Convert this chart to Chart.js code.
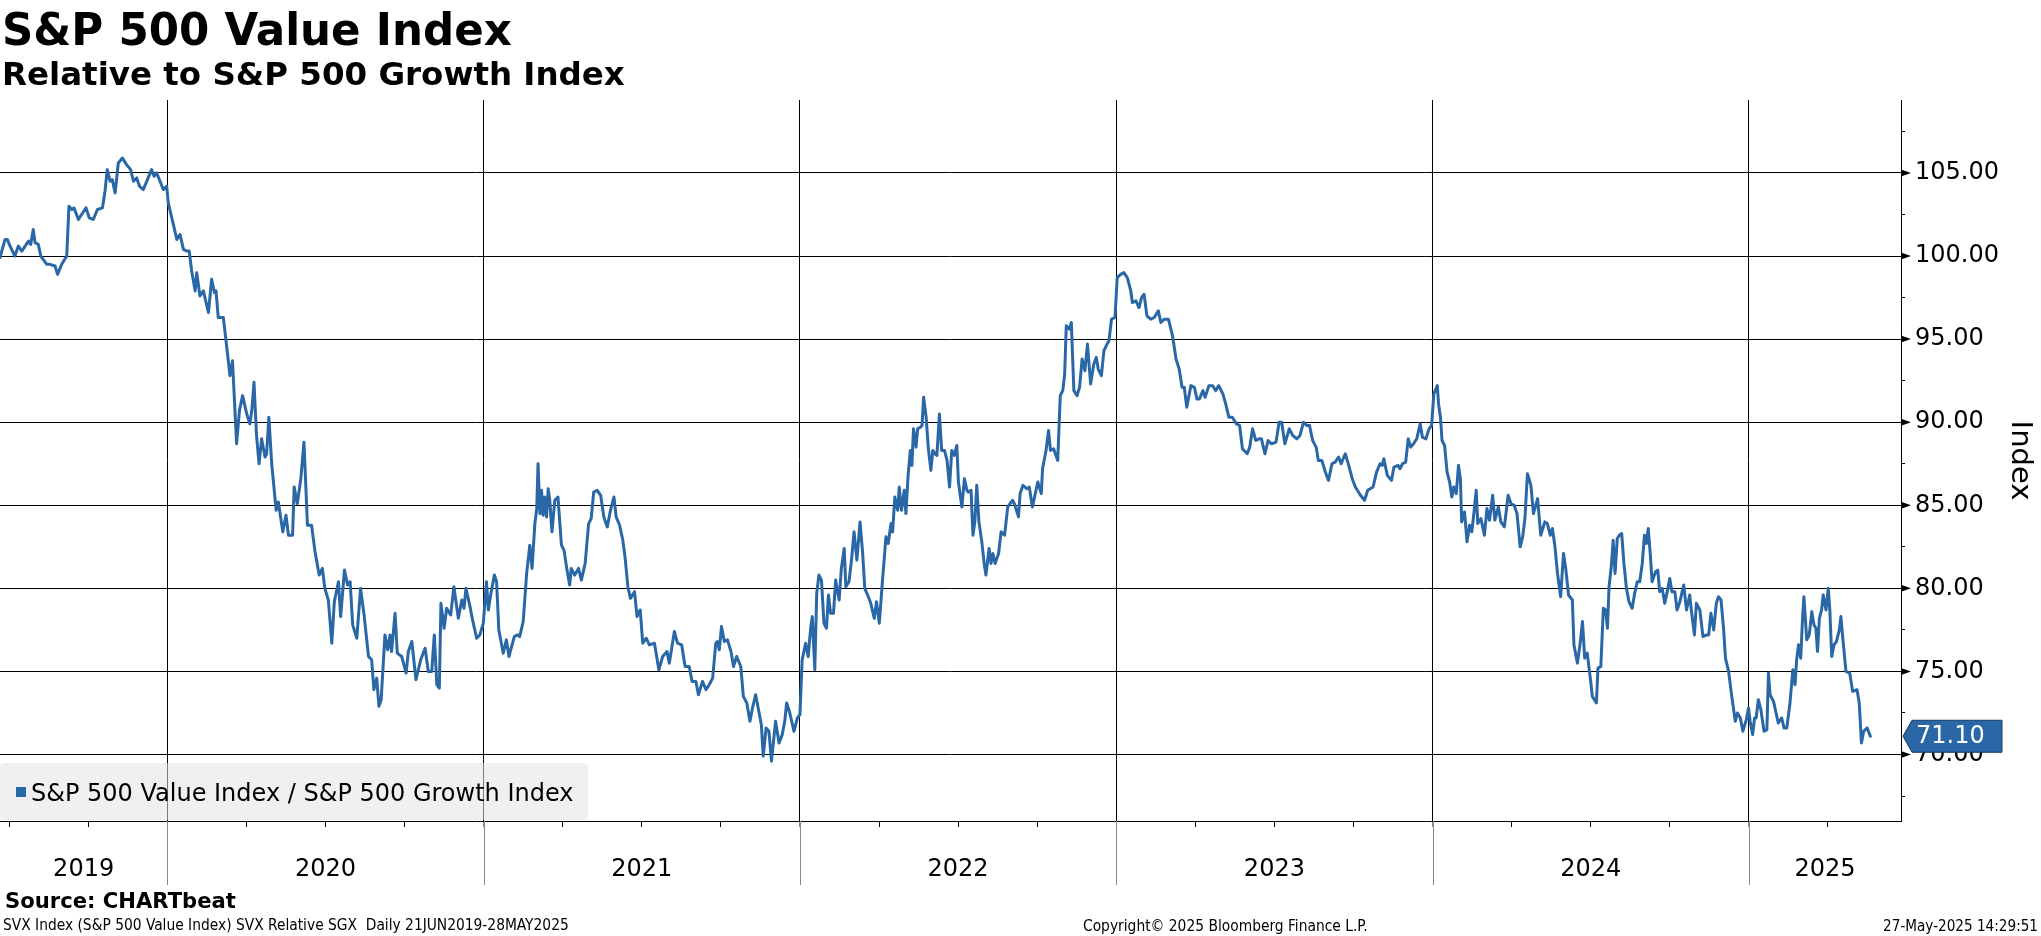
<!DOCTYPE html>
<html><head><meta charset="utf-8">
<script src="https://cdn.jsdelivr.net/npm/chart.js@4.4.1/dist/chart.umd.min.js"></script>
<style>html,body{margin:0;padding:0;background:#fff;overflow:hidden}#wrap{position:relative;width:2041px;height:936px}</style>
</head><body><div id="wrap"><canvas id="c"></canvas></div>
<script>
// ---------- texts ----------
const titleText = 'S&P 500 Value Index';
const subtitleText = 'Relative to S&P 500 Growth Index';
const seriesLabel = 'S&P 500 Value Index / S&P 500 Growth Index';
const sourceText = 'Source: CHARTbeat';
const footLeft = 'SVX Index (S&P 500 Value Index) SVX Relative SGX  Daily 21JUN2019-28MAY2025';
const footCenter = 'Copyright\u00A9 2025 Bloomberg Finance L.P.';
const footRight = '27-May-2025 14:29:51';
const yAxisTitle = 'Index';

// ---------- axes ----------
const yearLabels = ['2019','2020','2021','2022','2023','2024','2025'];
const yearBoundaries = [2020, 2021, 2022, 2023, 2024, 2025];
const yMajorTicks = [70, 75, 80, 85, 90, 95, 100, 105];
const yMinorTicks = [67.5, 72.5, 77.5, 82.5, 87.5, 92.5, 97.5, 102.5, 107.5];
const xStart = 2019.471, xEnd = 2025.481;   // 21 Jun 2019 .. late Jun 2025 (decimal years)
const yMin = 66.0, yMax = 109.39;

// ---------- data (dates as decimal years, ratio values) ----------
const datesJun19toDec20 = [2019.471,2019.487,2019.494,2019.503,2019.518,2019.529,2019.540,2019.561,2019.568,2019.576,
2019.582,2019.592,2019.600,2019.619,2019.629,2019.645,2019.653,2019.666,2019.682,2019.689,
2019.698,2019.705,2019.719,2019.729,2019.743,2019.753,2019.766,2019.779,2019.795,2019.803,
2019.810,2019.819,2019.826,2019.835,2019.845,2019.858,2019.871,2019.884,2019.893,2019.903,
2019.912,2019.924,2019.935,2019.950,2019.958,2019.966,2019.977,2019.987,2019.998,2020.003,
2020.019,2020.030,2020.040,2020.051,2020.061,2020.069,2020.077,2020.088,2020.093,2020.103,
2020.114,2020.130,2020.140,2020.149,2020.154,2020.161,2020.177,2020.188,2020.198,2020.206,
2020.219,2020.228,2020.238,2020.251,2020.261,2020.267,2020.274,2020.282,2020.290,2020.298,
2020.309,2020.314,2020.321,2020.330,2020.344,2020.351,2020.365,2020.375,2020.383,2020.396,
2020.401,2020.411,2020.422,2020.432,2020.443,2020.456,2020.467,2020.480,2020.490,2020.498,
2020.509,2020.520,2020.528,2020.541,2020.548,2020.560,2020.570,2020.578,2020.586,2020.599,
2020.611,2020.622,2020.636,2020.646,2020.653,2020.662,2020.669,2020.676,2020.688,2020.697,
2020.704,2020.709,2020.720,2020.727,2020.741,2020.755,2020.762,2020.773,2020.786,2020.801,
2020.815,2020.825,2020.836,2020.844,2020.852,2020.860,2020.865,2020.875,2020.883,2020.896,
2020.906,2020.920,2020.931,2020.938,2020.944,2020.957,2020.965,2020.978];
const valuesJun19toDec20 = [99.9,101.0,101.0,100.6,100.0,100.6,100.3,100.9,100.7,101.6,
100.8,100.7,100.0,99.5,99.5,99.4,98.9,99.5,100.0,103.0,
102.8,102.9,102.2,102.5,102.9,102.3,102.2,102.8,102.9,103.9,
105.2,104.5,104.6,103.8,105.6,105.9,105.5,105.2,104.5,104.7,
104.2,104.0,104.5,105.2,104.8,105.0,104.5,104.0,104.2,103.2,
101.9,101.0,101.3,100.4,100.3,100.3,99.1,97.9,99.0,97.6,
97.9,96.6,98.6,97.8,97.9,96.3,96.3,94.5,92.8,93.7,
88.7,90.7,91.6,90.5,89.9,90.7,92.4,89.2,87.5,89.0,
87.9,88.1,90.3,87.5,84.7,85.2,83.4,84.4,83.2,83.2,
86.1,85.1,86.6,88.8,83.8,83.8,82.2,80.8,81.2,80.0,
79.3,76.7,79.2,80.4,78.3,81.1,80.2,80.4,77.8,77.0,
80.0,78.4,75.9,75.7,73.9,74.6,72.9,73.3,77.2,76.3,
77.2,76.2,78.5,76.1,75.9,74.9,76.2,76.8,74.5,75.7,
76.4,75.0,75.0,77.2,74.2,74.0,79.1,77.6,78.8,78.4,
80.1,78.2,79.3,78.8,80.0,78.9,78.1,77.0];

const datesJan21toJul22 = [2020.988,2020.999,2021.009,2021.015,2021.023,2021.034,2021.041,2021.048,2021.062,2021.072,
2021.080,2021.097,2021.107,2021.114,2021.125,2021.136,2021.146,2021.153,2021.162,2021.168,
2021.172,2021.178,2021.183,2021.188,2021.193,2021.199,2021.204,2021.209,2021.216,2021.225,
2021.235,2021.246,2021.254,2021.262,2021.272,2021.277,2021.288,2021.300,2021.309,2021.321,
2021.332,2021.340,2021.348,2021.359,2021.370,2021.380,2021.391,2021.401,2021.412,2021.419,
2021.430,2021.440,2021.447,2021.456,2021.464,2021.477,2021.485,2021.495,2021.503,2021.514,
2021.524,2021.540,2021.554,2021.566,2021.580,2021.587,2021.603,2021.613,2021.626,2021.637,
2021.650,2021.659,2021.671,2021.679,2021.692,2021.703,2021.713,2021.724,2021.734,2021.739,
2021.745,2021.752,2021.761,2021.771,2021.782,2021.790,2021.800,2021.813,2021.821,2021.832,
2021.842,2021.850,2021.860,2021.871,2021.878,2021.884,2021.893,2021.902,2021.910,2021.923,
2021.934,2021.944,2021.952,2021.958,2021.968,2021.981,2021.992,2022.000,2022.007,2022.018,
2022.026,2022.034,2022.039,2022.047,2022.053,2022.060,2022.068,2022.076,2022.084,2022.090,
2022.097,2022.106,2022.113,2022.124,2022.131,2022.140,2022.145,2022.155,2022.163,2022.171,
2022.180,2022.190,2022.198,2022.205,2022.216,2022.224,2022.235,2022.242,2022.251,2022.261,
2022.272,2022.279,2022.288,2022.293,2022.300,2022.309,2022.314,2022.321,2022.330,2022.335,
2022.342,2022.349,2022.354,2022.359,2022.367,2022.372,2022.381,2022.386,2022.391,2022.399,
2022.406,2022.414,2022.420,2022.427,2022.433,2022.441,2022.448,2022.457,2022.465,2022.473,
2022.480,2022.488,2022.496,2022.501,2022.512,2022.520,2022.528];
const valuesJan21toJul22 = [77.2,77.9,80.4,78.7,79.7,80.8,80.4,77.5,76.1,76.9,
75.9,77.1,77.2,77.1,78.0,80.9,82.6,81.2,83.9,84.8,
87.5,84.5,85.9,84.4,85.5,84.3,86.0,85.3,83.4,85.3,
85.5,82.6,82.3,81.3,80.2,81.2,80.8,81.2,80.5,81.5,
83.9,84.2,85.8,85.9,85.6,84.3,83.7,84.7,85.5,84.3,
83.8,82.9,81.9,80.1,79.4,79.8,78.3,78.7,76.7,77.0,
76.6,76.7,75.1,75.9,76.2,75.5,77.4,76.7,76.6,75.3,
75.3,74.4,74.4,73.6,74.4,73.9,74.2,74.6,76.7,76.8,
76.3,77.7,76.8,76.9,76.2,75.3,75.9,75.3,73.5,73.1,
72.0,72.8,73.6,72.5,71.8,69.9,71.6,71.4,69.6,72.0,
70.7,71.2,72.0,73.1,72.5,71.4,72.2,72.4,75.7,76.7,
75.9,77.6,78.3,75.1,79.7,80.8,80.5,77.9,77.6,79.6,
78.5,78.5,80.5,79.3,81.2,82.4,80.1,80.4,81.7,83.4,
81.7,84.0,82.2,80.0,79.5,79.1,78.2,79.2,77.9,80.5,
83.1,82.7,83.9,83.4,85.5,84.7,86.1,84.7,85.9,84.5,
86.8,88.3,87.4,89.6,88.5,89.6,89.7,89.8,91.5,90.3,
88.4,87.1,88.3,88.1,88.0,90.5,88.3,88.3,87.7,86.1,
88.3,88.0,88.6,86.4,84.9,86.6,85.9];

const datesJul22toDec23 = [2022.532,2022.541,2022.547,2022.553,2022.559,2022.566,2022.575,2022.583,2022.588,2022.598,
2022.604,2022.610,2022.617,2022.628,2022.636,2022.647,2022.657,2022.672,2022.678,2022.691,
2022.696,2022.705,2022.717,2022.725,2022.735,2022.752,2022.763,2022.767,2022.778,2022.786,
2022.792,2022.802,2022.815,2022.823,2022.831,2022.837,2022.842,2022.852,2022.858,2022.866,
2022.876,2022.884,2022.892,2022.901,2022.909,2022.919,2022.929,2022.937,2022.943,2022.953,
2022.961,2022.971,2022.977,2022.985,2022.996,2023.003,2023.014,2023.024,2023.035,2023.046,
2023.051,2023.062,2023.072,2023.080,2023.088,2023.097,2023.109,2023.120,2023.133,2023.141,
2023.152,2023.165,2023.178,2023.189,2023.199,2023.208,2023.215,2023.223,2023.236,2023.247,
2023.255,2023.263,2023.274,2023.281,2023.293,2023.305,2023.314,2023.324,2023.337,2023.346,
2023.356,2023.367,2023.380,2023.390,2023.399,2023.414,2023.422,2023.431,2023.441,2023.452,
2023.459,2023.470,2023.480,2023.491,2023.505,2023.515,2023.523,2023.533,2023.547,2023.558,
2023.571,2023.581,2023.592,2023.602,2023.611,2023.621,2023.632,2023.639,2023.650,2023.661,
2023.671,2023.682,2023.692,2023.703,2023.711,2023.724,2023.735,2023.746,2023.756,2023.772,
2023.785,2023.795,2023.812,2023.823,2023.834,2023.841,2023.846,2023.857,2023.870,2023.878,
2023.891,2023.897,2023.905,2023.915,2023.923,2023.931,2023.940,2023.950,2023.961,2023.968,
2023.979,2023.989,2023.997];
const valuesJul22toDec23 = [85.8,85.9,83.2,84.0,86.2,84.0,82.8,81.4,80.8,82.4,
81.5,82.1,81.5,82.1,83.4,83.2,84.9,85.3,85.1,84.3,
85.7,86.2,86.0,86.1,84.9,86.4,85.7,87.2,88.3,89.5,
88.3,88.4,87.7,91.6,91.9,92.9,95.8,95.6,96.0,91.9,
91.6,92.1,93.8,93.1,94.7,92.3,93.5,93.9,93.2,92.8,
94.3,94.7,94.9,96.2,96.3,98.7,98.9,99.0,98.7,97.9,
97.2,97.3,96.9,97.5,97.7,96.4,96.2,96.3,96.7,96.0,
96.2,96.2,95.2,93.8,93.2,92.1,92.1,90.9,92.2,92.1,
91.4,91.4,91.9,91.5,92.2,92.2,91.9,92.2,91.7,91.1,
90.3,90.3,89.9,89.8,88.4,88.1,88.5,89.6,88.9,89.0,
89.0,88.1,88.9,88.7,88.8,90.0,90.0,88.7,89.6,89.2,
89.0,89.2,90.0,89.8,89.8,88.9,88.5,87.7,87.7,87.0,
86.5,87.5,87.6,87.9,87.5,88.1,87.4,86.6,86.1,85.6,
85.3,85.9,86.1,87.0,87.5,87.4,87.8,86.8,86.5,87.3,
87.4,87.2,87.5,87.6,89.0,88.5,88.7,89.0,89.9,89.1,
89.0,89.6,89.8];

const datesJan24toMay25 = [2024.004,2024.015,2024.019,2024.025,2024.030,2024.038,2024.046,2024.054,2024.061,2024.067,
2024.075,2024.082,2024.088,2024.092,2024.101,2024.109,2024.117,2024.124,2024.130,2024.138,
2024.143,2024.153,2024.164,2024.172,2024.180,2024.190,2024.197,2024.208,2024.216,2024.227,
2024.239,2024.248,2024.258,2024.267,2024.277,2024.285,2024.292,2024.300,2024.311,2024.319,
2024.332,2024.342,2024.355,2024.363,2024.372,2024.379,2024.387,2024.395,2024.405,2024.414,
2024.421,2024.430,2024.442,2024.447,2024.458,2024.466,2024.474,2024.481,2024.489,2024.500,
2024.505,2024.518,2024.523,2024.532,2024.540,2024.547,2024.553,2024.558,2024.565,2024.571,
2024.577,2024.584,2024.591,2024.598,2024.605,2024.613,2024.621,2024.631,2024.639,2024.647,
2024.655,2024.663,2024.670,2024.676,2024.682,2024.689,2024.694,2024.705,2024.712,2024.718,
2024.726,2024.734,2024.742,2024.750,2024.757,2024.766,2024.773,2024.782,2024.794,2024.803,
2024.813,2024.820,2024.828,2024.834,2024.845,2024.855,2024.866,2024.873,2024.880,2024.889,
2024.897,2024.904,2024.912,2024.920,2024.926,2024.936,2024.946,2024.957,2024.964,2024.973,
2024.981,2024.992,2024.999,2025.004,2025.012,2025.018,2025.023,2025.030,2025.038,2025.048,
2025.057,2025.062,2025.067,2025.078,2025.086,2025.093,2025.104,2025.111,2025.120,2025.130,
2025.139,2025.146,2025.151,2025.157,2025.164,2025.170,2025.174,2025.183,2025.191,2025.199,
2025.206,2025.212,2025.217,2025.223,2025.230,2025.235,2025.244,2025.251,2025.256,2025.262,
2025.269,2025.277,2025.286,2025.291,2025.296,2025.307,2025.319,2025.328,2025.342,2025.349,
2025.356,2025.363,2025.374,2025.384];
const valuesJan24toMay25 = [91.7,92.2,91.1,90.3,88.9,88.6,87.0,86.4,85.5,86.1,
85.7,87.4,86.6,84.0,84.6,82.8,83.8,83.4,84.4,85.9,
83.9,84.2,83.2,84.8,84.1,85.6,84.1,84.9,84.0,83.7,
85.6,85.1,85.0,84.5,82.5,83.1,84.2,86.9,86.2,84.5,
85.4,83.2,84.0,83.9,83.2,83.6,82.5,80.9,79.5,82.1,
81.2,79.6,79.3,76.6,75.5,76.6,78.0,75.8,76.1,74.4,
73.5,73.1,75.2,75.3,78.8,78.7,77.6,80.1,81.3,82.9,
80.9,83.0,83.2,83.3,81.5,80.0,79.2,78.8,79.7,80.4,
80.4,81.5,83.2,82.7,83.6,81.9,80.4,81.0,81.1,79.8,
80.0,79.1,79.8,80.6,79.8,79.8,78.7,79.2,80.2,78.7,
79.6,78.4,77.2,79.1,78.7,77.1,77.2,77.2,78.5,77.5,
79.1,79.5,79.3,77.6,75.8,75.0,73.5,72.0,72.5,72.2,
71.4,72.1,72.8,72.0,71.2,72.2,72.2,73.3,72.7,71.4,
71.5,74.9,73.6,73.2,72.5,71.9,72.2,71.6,71.6,73.1,
75.1,74.2,75.7,76.6,75.8,78.3,79.5,76.9,77.2,78.6,
77.8,77.6,76.2,78.2,78.7,79.6,78.7,80.0,78.7,75.9,
76.6,76.8,77.5,78.3,77.2,75.0,74.9,73.8,73.9,73.1,
70.7,71.4,71.6,71.1];

// ---------- build ----------
const allDates = [].concat(datesJun19toDec20, datesJan21toJul22, datesJul22toDec23, datesJan24toMay25);
const allValues = [].concat(valuesJun19toDec20, valuesJan21toJul22, valuesJul22toDec23, valuesJan24toMay25);
const points = allDates.map((d, i) => ({x: d, y: allValues[i]}));
const lastValue = allValues[allValues.length - 1];

const LINE = '#2a67a6';
const FONT = '"DejaVu Sans", sans-serif';
const FONT_COND = '"DejaVu Sans Condensed", "DejaVu Sans", sans-serif';
Chart.defaults.font.family = FONT;
Chart.defaults.color = '#000';

// x ticks: quarter marks + year label positions (centre of visible part of each year)
const xTicks = [];
for (let yr = 2019; yr <= 2025; yr++) {
  for (let q = 0; q < 4; q++) {
    const v = yr + q / 4;
    if (v > xStart && v < xEnd) xTicks.push({value: v, kind: (q === 0 ? 'year' : 'quarter'), text: ''});
  }
  const a = Math.max(yr, xStart), b = Math.min(yr + 1, xEnd);
  xTicks.push({value: (a + b) / 2, kind: 'label', text: yearLabels[yr - 2019]});
}
xTicks.sort((p, q) => p.value - q.value);
const yTicks = yMajorTicks.map(v => ({value: v, kind: 'major'}))
  .concat(yMinorTicks.map(v => ({value: v, kind: 'minor'})))
  .sort((p, q) => p.value - q.value);

function fitFontSize(ctx, text, weight, family, targetW, base) {
  ctx.font = weight + ' ' + base + 'px ' + family;
  const w = ctx.measureText(text).width;
  return base * targetW / w;
}

const decor = {
  id: 'decor',
  afterDatasetsDraw(chart) {
    const {ctx, chartArea: ca} = chart;
    // legend box (inside plot, bottom-left, semi transparent so grid shows through)
    ctx.save();
    const bx = ca.left, by = ca.bottom - 58, bw = 588, bh = 57, r = 4;
    ctx.beginPath();
    ctx.moveTo(bx + r, by); ctx.lineTo(bx + bw - r, by); ctx.quadraticCurveTo(bx + bw, by, bx + bw, by + r);
    ctx.lineTo(bx + bw, by + bh - r); ctx.quadraticCurveTo(bx + bw, by + bh, bx + bw - r, by + bh);
    ctx.lineTo(bx + r, by + bh); ctx.quadraticCurveTo(bx, by + bh, bx, by + bh - r);
    ctx.lineTo(bx, by + r); ctx.quadraticCurveTo(bx, by, bx + r, by); ctx.closePath();
    ctx.fillStyle = 'rgba(228,228,228,0.55)';
    ctx.fill();
    ctx.fillStyle = LINE;
    ctx.fillRect(bx + 16, by + 24, 10, 10);
    ctx.fillStyle = '#000';
    ctx.font = '24px ' + FONT;
    ctx.textBaseline = 'alphabetic';
    ctx.textAlign = 'left';
    ctx.fillText(chart.data.datasets[0].label, bx + 31, by + 38);
    ctx.restore();
  },
  afterDraw(chart) {
    const {ctx, chartArea: ca, scales: {x, y}} = chart;
    ctx.save();
    // year separators continued into the axis band
    ctx.strokeStyle = '#8a8a8a';
    ctx.lineWidth = 1;
    yearBoundaries.forEach(b => {
      const px = Math.round(x.getPixelForValue(b)) + 0.5;
      ctx.beginPath(); ctx.moveTo(px, ca.bottom); ctx.lineTo(px, ca.bottom + 64); ctx.stroke();
    });
    // arrow markers on major y ticks
    ctx.fillStyle = '#000';
    yMajorTicks.forEach(v => {
      const py = y.getPixelForValue(v);
      ctx.beginPath(); ctx.moveTo(ca.right, py - 3.5); ctx.lineTo(ca.right + 10, py); ctx.lineTo(ca.right, py + 3.5); ctx.closePath(); ctx.fill();
    });
    // last value tag
    const py = y.getPixelForValue(lastValue);
    const L = ca.right + 2;
    ctx.beginPath();
    ctx.moveTo(L, py); ctx.lineTo(L + 9, py - 16); ctx.lineTo(L + 99, py - 16);
    ctx.lineTo(L + 99, py + 16); ctx.lineTo(L + 9, py + 16); ctx.closePath();
    ctx.fillStyle = LINE; ctx.fill();
    ctx.strokeStyle = '#163a60'; ctx.lineWidth = 1; ctx.stroke();
    ctx.fillStyle = '#fff'; ctx.font = '24px ' + FONT; ctx.textBaseline = 'middle'; ctx.textAlign = 'left';
    ctx.fillText(lastValue.toFixed(2), L + 13, py + 1);

    // titles
    ctx.fillStyle = '#000'; ctx.textBaseline = 'alphabetic'; ctx.textAlign = 'left';
    let s = fitFontSize(ctx, titleText, 'bold', FONT, 510, 44);
    ctx.font = 'bold ' + s + 'px ' + FONT; ctx.fillText(titleText, 2, 45);
    s = fitFontSize(ctx, subtitleText, 'bold', FONT, 623, 32);
    ctx.font = 'bold ' + s + 'px ' + FONT; ctx.fillText(subtitleText, 2, 85);
    // footers
    s = fitFontSize(ctx, sourceText, 'bold', FONT, 231, 21);
    ctx.font = 'bold ' + s + 'px ' + FONT; ctx.fillText(sourceText, 5, 908);
    s = fitFontSize(ctx, footLeft, 'normal', FONT_COND, 566, 14);
    ctx.font = s + 'px ' + FONT_COND; ctx.fillText(footLeft, 3, 930);
    s = fitFontSize(ctx, footCenter, 'normal', FONT_COND, 285, 14);
    ctx.font = s + 'px ' + FONT_COND; ctx.fillText(footCenter, 1083, 931);
    s = fitFontSize(ctx, footRight, 'normal', FONT_COND, 155, 14);
    ctx.font = s + 'px ' + FONT_COND; ctx.textAlign = 'right'; ctx.fillText(footRight, 2038, 931);
    ctx.restore();
  }
};

new Chart(document.getElementById('c'), {
  type: 'line',
  data: {
    datasets: [{
      label: seriesLabel,
      data: points,
      borderColor: LINE,
      backgroundColor: LINE,
      borderWidth: 3,
      pointRadius: 0,
      tension: 0,
      fill: false,
      borderJoinStyle: 'round',
      borderCapStyle: 'round'
    }]
  },
  options: {
    responsive: true,
    maintainAspectRatio: false,
    animation: false,
    layout: {padding: {top: 100, left: 0, right: 0, bottom: 0}},
    plugins: {legend: {display: false}, tooltip: {enabled: false}, title: {display: false}},
    scales: {
      x: {
        type: 'linear', position: 'bottom', min: xStart, max: xEnd, bounds: 'data',
        afterBuildTicks: sc => { sc.ticks = xTicks.map(t => Object.assign({}, t)); },
        afterFit: sc => { sc.height = 115; sc.paddingLeft = 0; sc.paddingRight = 0; },
        grid: {
          drawOnChartArea: true, drawTicks: true, tickLength: 6, lineWidth: 1,
          color: c => (c.tick && c.tick.kind === 'year') ? '#000' : 'rgba(0,0,0,0)',
          tickColor: c => (c.tick && c.tick.kind === 'quarter') ? '#000' : (c.tick && c.tick.kind === 'year' ? '#8a8a8a' : 'rgba(0,0,0,0)')
        },
        border: {display: true, color: '#000', width: 1},
        ticks: {
          autoSkip: false, maxRotation: 0, minRotation: 0, padding: 28, color: '#000',
          font: {size: 24, family: FONT},
          callback: (v, i, ticks) => ticks[i].text || ''
        }
      },
      y: {
        type: 'linear', position: 'right', min: yMin, max: yMax, bounds: 'data',
        afterBuildTicks: sc => { sc.ticks = yTicks.map(t => Object.assign({}, t)); },
        afterFit: sc => { sc.width = 140; sc.paddingTop = 0; sc.paddingBottom = 0; },
        grid: {
          drawOnChartArea: true, drawTicks: true, tickLength: 4, lineWidth: 1,
          color: c => (c.tick && c.tick.kind === 'major') ? '#000' : 'rgba(0,0,0,0)',
          tickColor: '#000'
        },
        border: {display: true, color: '#000', width: 1},
        ticks: {
          autoSkip: false, padding: 10, color: '#000', font: {size: 24, family: FONT},
          callback: (v, i, ticks) => ticks[i].kind === 'major' ? Number(v).toFixed(2) : ''
        },
        title: {display: true, text: yAxisTitle, color: '#000', font: {size: 29, family: FONT}, padding: {top: 4, bottom: 0}}
      }
    }
  },
  plugins: [decor]
});
</script>
</body></html>
